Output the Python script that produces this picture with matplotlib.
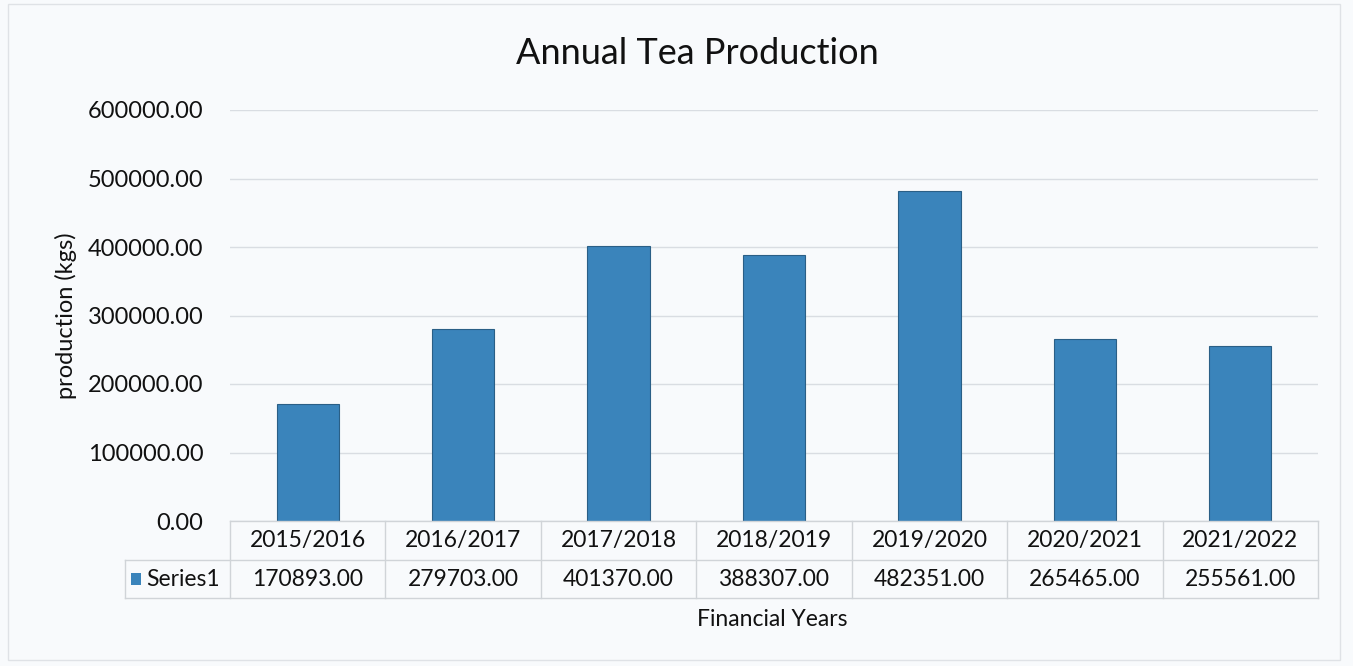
import matplotlib
matplotlib.use("Agg")
import matplotlib.pyplot as plt
from matplotlib.transforms import blended_transform_factory
from matplotlib.patches import Rectangle

years = ["2015/2016", "2016/2017", "2017/2018", "2018/2019", "2019/2020", "2020/2021", "2021/2022"]
production = [170893.00, 279703.00, 401370.00, 388307.00, 482351.00, 265465.00, 255561.00]
yticks = [0, 100000, 200000, 300000, 400000, 500000, 600000]
series_name = "Series1"

W, H = 1353, 666
bg = "#f8fafc"
bar_color = "#3a84bb"
grid_col = "#d9dde2"
font = "Lato"
plt.rcParams['font.family'] = [font, 'DejaVu Sans']
txt_col = "#111111"

fig = plt.figure(figsize=(W / 100, H / 100), dpi=100, facecolor=bg)

def fx(px):
    return px / W

def fy(py):
    return 1 - py / H

left, right, top, bottom = 230, 1318, 110, 521
ax = fig.add_axes([fx(left), fy(bottom), fx(right) - fx(left), fy(top) - fy(bottom)])
ax.set_facecolor(bg)
x = list(range(len(years)))
ax.bar(x, production, width=0.4, color=bar_color, edgecolor="#2a5f86", linewidth=0.8, zorder=3)
ax.set_xlim(-0.5, len(years) - 0.5)
ax.set_ylim(0, 600000)
ax.set_yticks(yticks)
ax.set_yticklabels([f"{v:.2f}" for v in yticks], fontsize=17, color=txt_col)
ax.tick_params(axis="y", length=0, pad=19)
ax.set_xticks([])
ax.grid(axis="y", color=grid_col, linewidth=1, zorder=0)
for s in ax.spines.values():
    s.set_visible(False)

ax.set_ylabel("production (kgs)", fontsize=17, labelpad=8, color=txt_col)

fig.text(fx(697), fy(53), "Annual Tea Production", ha="center", va="center", fontsize=26, color=txt_col)

# data table
tr = blended_transform_factory(ax.transData, fig.transFigure)
row_top, row_mid, row_bot = fy(521), fy(560), fy(598)
line_kw = dict(color="#d0d4d8", linewidth=1)
n = len(years)
fig.add_artist(plt.Line2D([-0.5, n - 0.5], [row_top, row_top], transform=tr, **line_kw))
fig.add_artist(plt.Line2D([fx(125), fx(right)], [row_mid, row_mid], transform=fig.transFigure, **line_kw))
fig.add_artist(plt.Line2D([fx(125), fx(right)], [row_bot, row_bot], transform=fig.transFigure, **line_kw))
fig.add_artist(plt.Line2D([fx(125), fx(125)], [row_bot, row_mid], transform=fig.transFigure, **line_kw))
for i in range(n + 1):
    fig.add_artist(plt.Line2D([i - 0.5, i - 0.5], [row_bot, row_top], transform=tr, **line_kw))
for i, (yr, v) in enumerate(zip(years, production)):
    fig.text(i, (row_top + row_mid) / 2, yr, transform=tr, ha="center", va="center", fontsize=16.5, color=txt_col)
    fig.text(i, (row_mid + row_bot) / 2, f"{v:.2f}", transform=tr, ha="center", va="center", fontsize=16.5, color=txt_col)
fig.add_artist(Rectangle((fx(131), (row_mid + row_bot) / 2 - 0.009), fx(10), 0.018,
                         transform=fig.transFigure, facecolor=bar_color, edgecolor="none"))
fig.text(fx(146), (row_mid + row_bot) / 2, series_name, ha="left", va="center", fontsize=16.5, color=txt_col)

fig.text(fx(772), fy(620), "Financial Years", ha="center", va="center", fontsize=16.5, color=txt_col)

fig.add_artist(Rectangle((fx(8), fy(660)), fx(1340) - fx(8), fy(4) - fy(660),
                         transform=fig.transFigure, facecolor="none", edgecolor="#dfe2e6", linewidth=1))

fig.savefig("out.png", dpi=100, facecolor=bg)
